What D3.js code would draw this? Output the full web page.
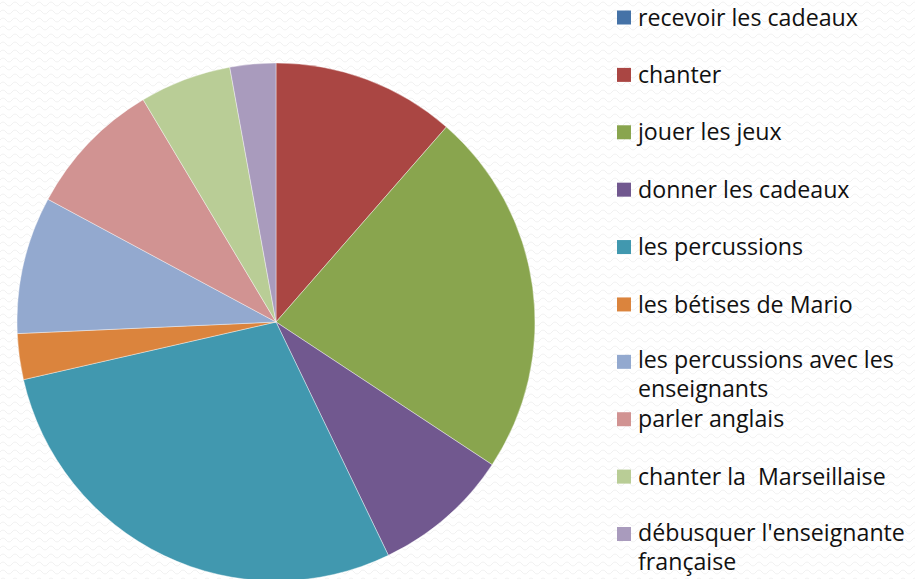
<!DOCTYPE html>
<html><head><meta charset="utf-8">
<script src="https://cdn.jsdelivr.net/npm/d3@7"></script>
<style>html,body{margin:0;padding:0;background:#fff;}svg{display:block;} text{white-space:pre;}</style>
</head><body>
<svg id="chart" width="915" height="579"></svg>
<script>
const categories = ["recevoir les cadeaux","chanter","jouer les jeux","donner les cadeaux","les percussions","les bétises de Mario","les percussions avec les enseignants","parler anglais","chanter la  Marseillaise","débusquer l'enseignante française"];
const legendLines = [["recevoir les cadeaux"],["chanter"],["jouer les jeux"],["donner les cadeaux"],["les percussions"],["les bétises de Mario"],["les percussions avec les","enseignants"],["parler anglais"],["chanter la  Marseillaise"],["débusquer l'enseignante","française"]];
const values = [0,4,8,3,10,1,3,3,2,1];
const colors = ["#4572A7","#AA4643","#89A54E","#71588F","#4198AF","#DB843D","#93A9CF","#D19392","#B9CD96","#A99BBD"];

const svg = d3.select("#chart");
const defs = svg.append("defs");
const pat = defs.append("pattern").attr("id","wave").attr("patternUnits","userSpaceOnUse").attr("width",12).attr("height",8);
pat.append("path").attr("d","M0,4 Q3,0 6,4 T12,4").attr("fill","none").attr("stroke","#f1f1f1").attr("stroke-width",1);
svg.append("rect").attr("width",915).attr("height",579).attr("fill","#fff");
svg.append("rect").attr("width",915).attr("height",579).attr("fill","url(#wave)");

const cx = 276, cy = 322, r = 259;
const pie = d3.pie().sort(null).value(d => d.v);
const arc = d3.arc().innerRadius(0).outerRadius(r);
const data = categories.map((c,i)=>({c, v: values[i], col: colors[i]}));
svg.append("g").attr("transform",`translate(${cx},${cy})`)
  .selectAll("path").data(pie(data)).join("path")
  .attr("d", arc).attr("fill", d => d.data.col)
  .attr("stroke", d => d.data.v > 0 ? "#ffffff" : "none").attr("stroke-width", 0.4);

const fontFamily = "'Open Sans', 'DejaVu Sans', sans-serif";
const probe = svg.append("text").attr("font-family",fontFamily).attr("font-size",20).text("recevoir les cadeaux");
const w20 = probe.node().getComputedTextLength();
probe.remove();
const fs = 20 * 220 / w20;

const legendY = d3.scaleLinear().domain([0, categories.length-1]).range([17.5, 534]);
const lg = svg.append("g");
legendLines.forEach((lines,i) => {
  const y = legendY(i);
  lg.append("rect").attr("x",617).attr("y",y-7).attr("width",14).attr("height",14).attr("fill",colors[i]);
  const t = lg.append("text").attr("font-family",fontFamily).attr("font-size",fs).attr("fill","#111").attr("xml:space","preserve");
  const off = lines.length > 1 ? -1.5 : 0;
  lines.forEach((ln,j) => {
    t.append("tspan").attr("x",638).attr("y", y + off + j*29).attr("dy","0.35em").text(ln);
  });
});
</script>
</body></html>
